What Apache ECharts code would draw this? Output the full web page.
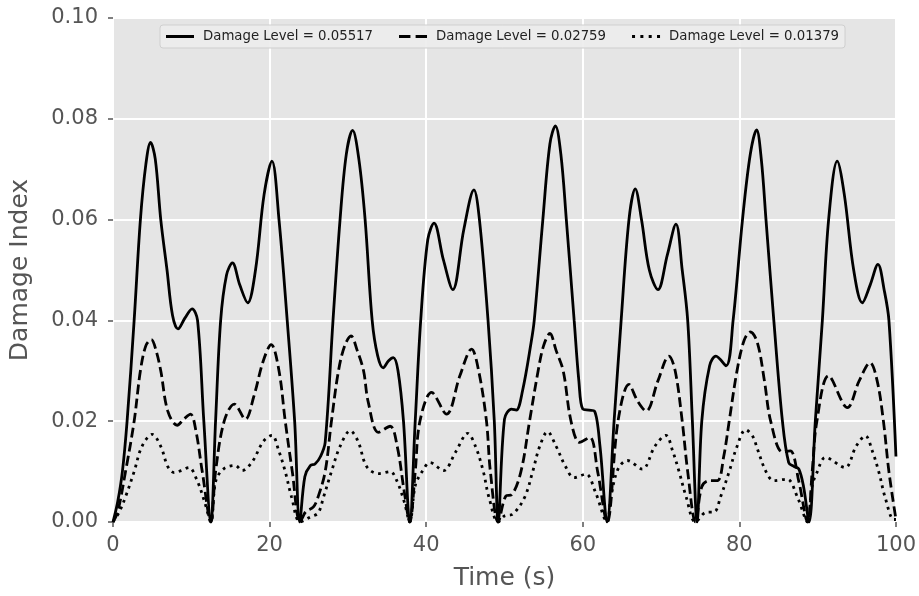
<!DOCTYPE html>
<html>
<head>
<meta charset="utf-8">
<script src="https://cdn.jsdelivr.net/npm/echarts@6/dist/echarts.min.js"></script>
<style>
  html, body { margin: 0; padding: 0; background: #fff; }
  #chart { width: 919px; height: 596px; }
</style>
</head>
<body>
<div id="chart"></div>
<script>
// legend names
const seriesNames = ['Damage Level = 0.05517', 'Damage Level = 0.02759', 'Damage Level = 0.01379'];

// [time (s), damage index]
const level05517 = [
  [0,0],[0.6,0.004],[1.2,0.01],[1.8,0.02],[2.7,0.04],[3.5,0.06],[4.2,0.071],[4.8,0.0753],[5.4,0.072],[6.1,0.06],[6.9,0.05],[7.6,0.041],[8.3,0.0383],[9.2,0.0405],[10.1,0.0423],[10.8,0.04],[11.6,0.02],[12.5,0],
  [13.1,0.02],[13.75,0.04],[14.5,0.049],[15.25,0.0514],[16.2,0.047],[17.2,0.0435],[18.2,0.05],[19.3,0.065],[20.3,0.0716],[21.2,0.06],[22.25,0.04],[23.2,0.02],[23.85,0],
  [24.5,0.009],[25.2,0.0112],[25.8,0.0115],[26.5,0.013],[27.1,0.0158],[28.1,0.04],[29.0,0.06],[29.8,0.073],[30.6,0.0777],[31.4,0.072],[32.2,0.06],[33.1,0.04],[33.8,0.033],[34.5,0.0306],[35.2,0.032],[35.8,0.0326],[36.4,0.03],[37.1,0.02],[37.9,0],
  [38.6,0.02],[39.3,0.04],[40.2,0.056],[41.0,0.0593],[42.2,0.052],[43.4,0.0461],[44.8,0.058],[46.1,0.0659],[46.8,0.06],[47.9,0.04],[48.7,0.02],[49.2,0],
  [50.0,0.0204],[50.9,0.0224],[51.5,0.0222],[52.3,0.026],[53.4,0.0356],[53.8,0.04],[54.9,0.06],[55.8,0.075],[56.5,0.0786],[57.2,0.073],[57.9,0.06],[58.9,0.04],[59.5,0.028],[60.0,0.0224],[60.8,0.0222],[61.5,0.022],[62.2,0.015],[63.1,0],
  [64.0,0.02],[64.9,0.04],[65.9,0.06],[66.7,0.0661],[67.5,0.06],[68.5,0.05],[69.6,0.0461],[70.8,0.053],[71.9,0.0591],[72.7,0.05],[73.4,0.04],[74.0,0.02],[74.6,0],
  [75.2,0.02],[76.2,0.031],[77.0,0.0329],[78.3,0.031],[79.2,0.04],[80.4,0.06],[81.4,0.073],[82.2,0.0778],[82.8,0.072],[83.4,0.06],[84.4,0.04],[85.5,0.02],[86.3,0.0118],[87.0,0.011],[87.6,0.0105],[88.2,0.007],[88.9,0],
  [89.7,0.02],[90.6,0.04],[91.4,0.06],[92.5,0.0716],[93.4,0.065],[94.6,0.05],[95.7,0.0435],[96.7,0.047],[97.7,0.0511],[98.5,0.046],[99.1,0.04],[100,0.013]
];

const level02759 = [
  [0,0],[0.6,0.002],[1.6,0.01],[2.7,0.02],[3.5,0.03],[4.2,0.035],[4.9,0.0362],[5.5,0.034],[6.1,0.03],[7.0,0.022],[8.2,0.0192],[9.1,0.0205],[9.9,0.0214],[10.6,0.018],[11.4,0.01],[12.5,0],
  [13.1,0.01],[14.2,0.02],[15.5,0.0234],[16.9,0.0204],[18.0,0.025],[19.2,0.032],[20.2,0.0352],[21.2,0.03],[22.0,0.02],[22.9,0.01],[23.9,0],
  [24.6,0.002],[25.6,0.003],[26.2,0.005],[27.1,0.01],[27.9,0.02],[28.8,0.03],[29.6,0.035],[30.4,0.0369],[31.2,0.034],[32.0,0.03],[32.6,0.0238],[33.9,0.0178],[35.4,0.019],[36.3,0.015],[37.2,0.006],[37.9,0],
  [38.6,0.01],[39.2,0.02],[40.7,0.0257],[42.6,0.0214],[44.3,0.029],[45.8,0.0343],[46.7,0.03],[47.7,0.02],[48.2,0.01],[49.2,0],
  [50.2,0.0052],[50.9,0.0054],[52.1,0.01],[53.2,0.02],[54.3,0.03],[55.0,0.035],[55.8,0.0374],[56.6,0.034],[57.5,0.03],[58.5,0.02],[59.6,0.0158],[60.9,0.0168],[61.9,0.01],[63.1,0],
  [64.5,0.02],[65.9,0.0273],[67.0,0.024],[68.1,0.022],[69.6,0.028],[71.0,0.0329],[71.8,0.03],[72.7,0.02],[73.4,0.01],[74.4,0],
  [75.2,0.007],[76.1,0.0082],[77.2,0.0082],[78.0,0.013],[78.7,0.02],[79.7,0.03],[80.6,0.036],[81.4,0.0377],[82.3,0.0356],[83.2,0.028],[84.0,0.02],[85.5,0.0139],[86.5,0.0141],[87.6,0.008],[88.7,0],
  [89.3,0.01],[89.9,0.02],[91.4,0.029],[93.8,0.0227],[95.3,0.028],[96.7,0.0316],[97.6,0.028],[98.4,0.02],[99.1,0.01],[100,0.0005]
];

const level01379 = [
  [0,0],[0.8,0.002],[1.6,0.005],[2.7,0.01],[3.7,0.015],[5.0,0.0174],[6.1,0.015],[7.0,0.011],[7.8,0.0098],[8.7,0.0102],[9.7,0.0108],[10.8,0.008],[11.7,0.004],[12.5,0],
  [13.1,0.008],[14.1,0.0105],[15.6,0.0112],[16.5,0.0102],[17.8,0.012],[19.2,0.016],[20.3,0.0172],[21.2,0.014],[22.0,0.01],[22.8,0.005],[23.9,0],
  [25.2,0.001],[26.2,0.0018],[26.9,0.005],[27.9,0.01],[29.0,0.015],[30.3,0.0181],[31.3,0.016],[32.4,0.011],[33.9,0.0096],[35.4,0.010],[36.3,0.008],[37.2,0.004],[37.9,0],
  [38.6,0.0072],[39.4,0.0098],[40.5,0.0118],[42.2,0.0102],[43.8,0.014],[45.3,0.0176],[46.3,0.015],[47.3,0.01],[48.0,0.005],[49.2,0],
  [50.0,0.0012],[51.1,0.0016],[52.6,0.005],[53.6,0.01],[54.5,0.015],[55.5,0.0179],[56.6,0.015],[57.8,0.011],[58.9,0.0088],[60.4,0.0095],[61.6,0.006],[63.1,0],
  [63.6,0.005],[64.5,0.0105],[65.7,0.0122],[67.6,0.0105],[69.2,0.015],[70.6,0.0172],[71.5,0.014],[72.3,0.01],[73.2,0.005],[74.4,0],
  [75.7,0.0019],[76.8,0.002],[77.6,0.005],[78.7,0.01],[79.7,0.015],[80.8,0.0183],[81.7,0.017],[82.3,0.0145],[83.4,0.01],[84.4,0.0082],[86.1,0.0085],[87.4,0.005],[88.7,0],
  [89.3,0.0072],[89.9,0.0098],[91.0,0.0128],[93.5,0.0108],[94.9,0.015],[96.1,0.0171],[97.0,0.014],[97.8,0.01],[98.6,0.005],[99.7,0.0005],[100,0.0005]
];

const xTicks = { min: 0, max: 100, step: 20 };
const yTicks = { min: 0, max: 0.1, step: 0.02 };

const chart = echarts.init(document.getElementById('chart'), null, { renderer: 'canvas' });

const font = 'DejaVu Sans';
const grey = '#555555';

// legend keys drawn as filled paths so the dash pattern shows like the matplotlib ones
const legendIcons = [
  'path://M0,0h28v3h-28z',
  'path://M0,0h11v3h-11z M16,0h11v3h-11z',
  'path://M0,0h3v3h-3z M8.3,0h3v3h-3z M16.6,0h3v3h-3z M24.9,0h3v3h-3z',
];

function lineSeries(name, data, type) {
  return {
    name: name,
    type: 'line',
    data: data,
    smooth: 0.35,
    showSymbol: false,
    symbol: 'none',
    color: '#000',
    itemStyle: { color: '#000' },
    lineStyle: { color: '#000', width: 2.8, type: type, cap: 'butt' },
    emphasis: { disabled: true },
    animation: false,
  };
}

chart.setOption({
  backgroundColor: '#fff',
  textStyle: { fontFamily: font },
  grid: {
    left: 112, right: 22, top: 18, bottom: 73,
    show: true, backgroundColor: '#e5e5e5', borderWidth: 0,
  },
  legend: {
    top: 25,
    left: 160,
    data: seriesNames.map((n, i) => ({ name: n, icon: legendIcons[i] })),
    itemWidth: 28,
    itemHeight: 3.5,
    itemGap: 26,
    padding: [5, 6, 5, 6],
    backgroundColor: 'rgba(236,236,236,0.9)',
    borderColor: '#cfcfcf',
    borderWidth: 1,
    borderRadius: 3,
    textStyle: { fontFamily: font, fontSize: 13.3, color: '#222', padding: [0, 0, 0, 4] },
  },
  xAxis: {
    type: 'value',
    min: xTicks.min, max: xTicks.max, interval: xTicks.step,
    name: 'Time (s)',
    nameLocation: 'middle',
    nameGap: 44,
    nameTextStyle: { fontFamily: font, fontSize: 25, color: grey },
    axisLine: { show: false },
    axisTick: { show: true, length: 5, lineStyle: { color: grey, width: 1.5 } },
    axisLabel: { fontFamily: font, fontSize: 21, color: grey, margin: 13 },
    splitLine: { show: true, lineStyle: { color: '#fff', width: 2 } },
  },
  yAxis: {
    type: 'value',
    min: yTicks.min, max: yTicks.max, interval: yTicks.step,
    name: 'Damage Index',
    nameLocation: 'middle',
    nameGap: 80,
    nameTextStyle: { fontFamily: font, fontSize: 25, color: grey },
    axisLine: { show: false },
    axisTick: { show: true, length: 5, lineStyle: { color: grey, width: 1.5 } },
    axisLabel: { fontFamily: font, fontSize: 21, color: grey, margin: 15, formatter: v => v.toFixed(2) },
    splitLine: { show: true, lineStyle: { color: '#fff', width: 2 } },
  },
  series: [
    lineSeries(seriesNames[0], level05517, 'solid'),
    lineSeries(seriesNames[1], level02759, [10, 4.5]),
    lineSeries(seriesNames[2], level01379, [2.8, 4.6]),
  ],
});
</script>
</body>
</html>
